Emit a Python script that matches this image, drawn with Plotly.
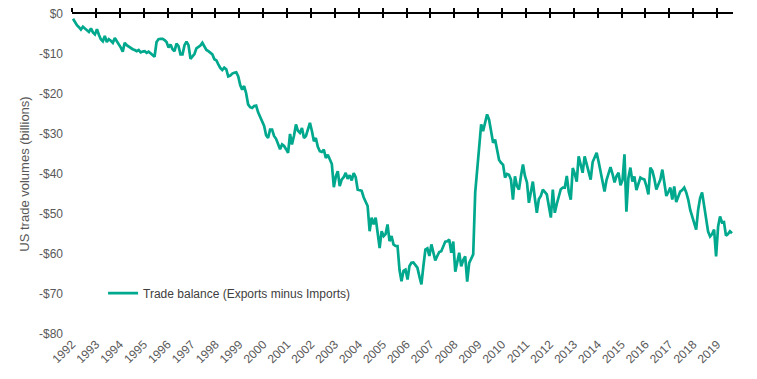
import pandas as pd
import plotly.graph_objects as go

# Monthly US trade balance, billions of dollars, Jan 1992 - Aug 2019
y1992 = [-1.2, -2.2, -2.8, -3.3, -3.9, -3.2, -3.6, -4.1, -4.5, -3.6, -4.6, -5.1]
y1993 = [-3.8, -5.2, -6.3, -6.8, -5.5, -7.0, -6.3, -6.7, -7.2, -6.0, -6.8, -7.3]
y1994 = [-8.4, -9.4, -7.2, -7.8, -8.2, -8.6, -8.8, -9.0, -9.3, -9.0, -9.6, -9.4]
y1995 = [-9.3, -9.7, -9.4, -9.8, -10.2, -10.7, -7.0, -6.3, -6.2, -6.2, -6.5, -7.0]
y1996 = [-8.4, -7.6, -8.8, -9.3, -7.4, -8.0, -10.1, -10.1, -7.8, -6.9, -7.8, -11.2]
y1997 = [-10.6, -10.0, -8.6, -8.3, -7.9, -7.2, -8.3, -9.0, -9.3, -9.7, -10.1, -11.3]
y1998 = [-11.6, -12.6, -13.5, -14.0, -13.4, -13.8, -15.6, -15.4, -14.9, -14.7, -14.6, -15.6]
y1999 = [-17.8, -18.9, -18.0, -19.8, -22.6, -23.3, -23.5, -23.0, -22.9, -24.6, -25.7, -26.9]
y2000 = [-28.0, -30.3, -31.0, -28.9, -28.9, -30.5, -31.2, -32.5, -33.8, -32.6, -33.0, -33.8]
y2001 = [-34.7, -30.0, -32.6, -30.5, -27.6, -29.2, -29.7, -28.5, -31.0, -30.5, -28.8, -27.2]
y2002 = [-29.3, -31.8, -31.0, -33.2, -34.3, -34.5, -33.9, -36.0, -35.2, -36.5, -37.5, -43.3]
y2003 = [-40.6, -39.3, -43.0, -41.4, -40.8, -39.7, -41.2, -40.3, -41.6, -39.8, -40.8, -43.9]
y2004 = [-44.0, -44.2, -45.8, -47.0, -48.0, -54.3, -50.9, -52.6, -50.9, -54.7, -58.5, -54.3]
y2005 = [-55.5, -55.0, -52.6, -56.8, -55.5, -57.6, -58.0, -58.0, -64.0, -66.8, -64.2, -63.9]
y2006 = [-66.4, -63.0, -62.2, -62.1, -62.8, -63.4, -65.6, -67.6, -63.0, -58.9, -58.6, -60.5]
y2007 = [-57.6, -59.5, -61.6, -60.5, -59.5, -59.3, -58.2, -56.9, -56.8, -56.4, -59.7, -56.9]
y2008 = [-64.4, -61.5, -59.7, -63.1, -61.5, -60.6, -66.9, -62.2, -61.0, -60.1, -44.6, -39.5]
y2009 = [-34.0, -27.6, -29.3, -27.0, -25.1, -26.4, -29.0, -32.2, -31.4, -33.9, -36.5, -37.2]
y2010 = [-37.7, -40.9, -40.0, -40.2, -41.4, -46.4, -40.6, -43.0, -43.9, -40.5, -37.6, -40.5]
y2011 = [-42.1, -47.2, -44.5, -41.9, -46.0, -49.7, -46.3, -45.5, -43.9, -44.5, -45.1, -48.0]
y2012 = [-50.9, -43.9, -49.7, -47.5, -45.9, -43.8, -43.4, -43.4, -40.5, -44.5, -46.4, -38.5]
y2013 = [-40.0, -41.9, -35.6, -37.5, -39.7, -35.6, -37.5, -39.8, -41.4, -37.0, -35.9, -34.7]
y2014 = [-37.0, -39.2, -41.4, -44.4, -41.5, -39.7, -38.3, -40.0, -42.1, -40.5, -39.7, -42.8]
y2015 = [-41.5, -35.1, -49.4, -41.0, -38.4, -41.9, -40.6, -44.0, -42.5, -40.9, -41.2, -41.4]
y2016 = [-43.0, -45.1, -38.4, -39.2, -41.2, -43.9, -42.6, -41.4, -38.9, -42.2, -45.5, -44.5]
y2017 = [-43.4, -46.4, -43.1, -47.0, -45.8, -44.4, -44.0, -43.4, -44.6, -46.4, -49.0, -50.6]
y2018 = [-52.0, -53.9, -49.0, -46.0, -44.6, -48.1, -52.0, -54.4, -55.6, -55.0, -53.9, -60.6]
y2019 = [-53.1, -50.6, -52.1, -52.0, -55.4, -55.0, -54.3, -54.8]

balance = (y1992 + y1993 + y1994 + y1995 + y1996 + y1997 + y1998 + y1999 + y2000 +
           y2001 + y2002 + y2003 + y2004 + y2005 + y2006 + y2007 + y2008 + y2009 +
           y2010 + y2011 + y2012 + y2013 + y2014 + y2015 + y2016 + y2017 + y2018 + y2019)
months = pd.date_range("1992-01-01", periods=len(balance), freq="MS")

y_tickvals = [0, -10, -20, -30, -40, -50, -60, -70, -80]
y_ticktext = ["$0", "-$10", "-$20", "-$30", "-$40", "-$50", "-$60", "-$70", "-$80"]

series_name = "Trade balance (Exports minus Imports)"
line_color = "#00A88D"
text_color = "#595959"
font_family = "Liberation Sans, Arial, sans-serif"

x_range = ["1992-01-01", "2019-09-01"]

fig = go.Figure()
# invisible carriers so the top (tick-crossing) axes get drawn
for ax in ["x2", "x3"]:
    fig.add_trace(go.Scatter(
        x=months, y=balance, xaxis=ax, yaxis="y", mode="lines",
        line=dict(color="rgba(0,0,0,0)", width=0), showlegend=False,
        hoverinfo="skip", xperiod="M1", xperiodalignment="middle",
    ))
fig.add_trace(go.Scatter(
    x=months, y=balance, mode="lines", name=series_name,
    xperiod="M1", xperiodalignment="middle",
    line=dict(color=line_color, width=2.7),
))

common_x = dict(type="date", range=x_range, dtick="M12", tick0="1992-01-01",
                showgrid=False, zeroline=False, automargin=False)

fig.update_layout(
    width=757, height=379,
    margin=dict(l=72, r=24, t=14, b=45),
    paper_bgcolor="white", plot_bgcolor="white",
    font=dict(family=font_family, size=12, color=text_color),
    showlegend=True,
    legend=dict(x=0.047, y=0.128, xanchor="left", yanchor="middle",
                bgcolor="rgba(0,0,0,0)", font=dict(size=12, color="#404040"),
                itemwidth=30),
    xaxis=dict(**common_x, tickformat="%Y", tickangle=-45, ticks="",
               showline=False, tickfont=dict(size=12, color=text_color)),
    xaxis2=dict(**common_x, overlaying="x", side="top", anchor="y",
                showticklabels=False, showline=True, linecolor="black", linewidth=2,
                ticks="outside", ticklen=4, tickwidth=1.5, tickcolor="black"),
    xaxis3=dict(**common_x, overlaying="x", side="top", anchor="y",
                showticklabels=False, showline=False,
                ticks="inside", ticklen=4, tickwidth=1.5, tickcolor="black"),
    yaxis=dict(range=[-80, 0], tickvals=y_tickvals, ticktext=y_ticktext,
               showgrid=False, zeroline=False, showline=False, ticks="",
               ticklabelstandoff=8, automargin=False,
               title=dict(text="US trade volumes (billions)", standoff=6,
                          font=dict(size=13, color=text_color))),
)

fig.write_html(
    "out.html",
    config={"displayModeBar": False},
    post_script="document.body.style.margin='0';document.body.style.overflow='hidden';",
)
